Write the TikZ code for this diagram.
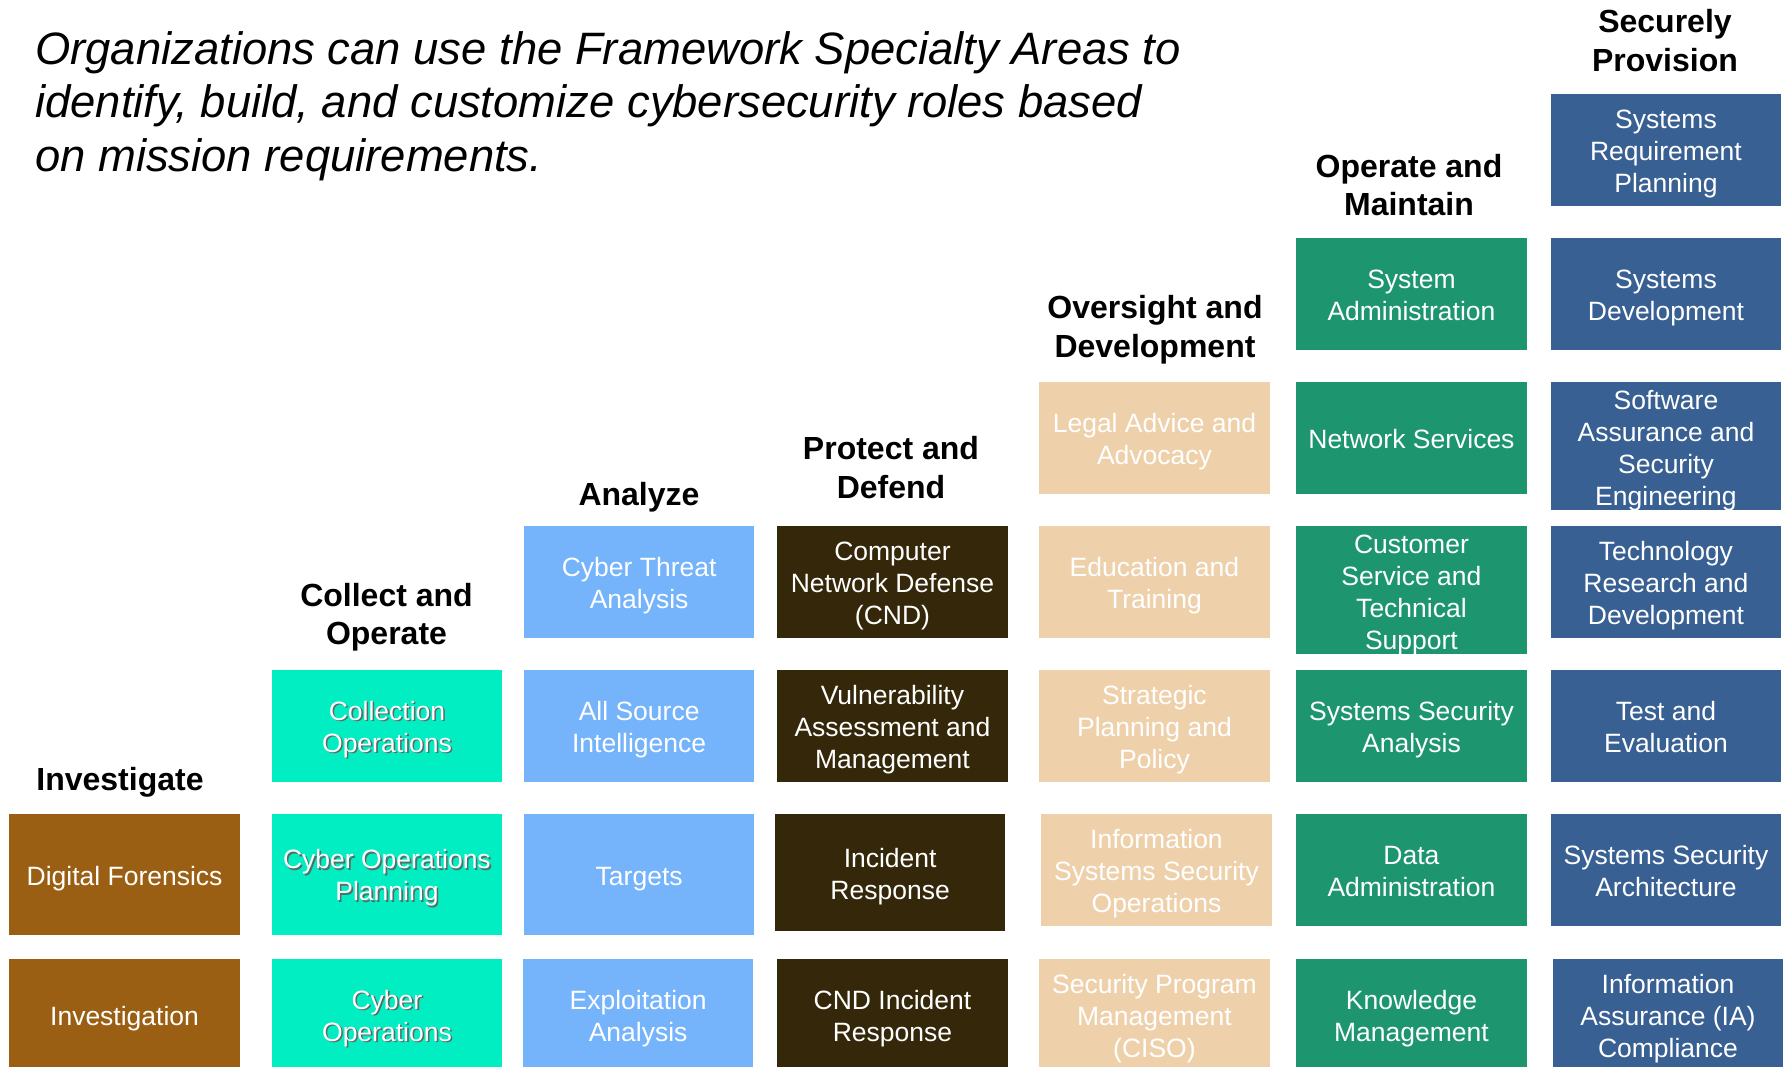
\documentclass[tikz,border=0pt]{standalone}
\usepackage{fontspec}
\setmainfont{Liberation Sans}

% area colours
\definecolor{invbrown}{HTML}{9A5F12}
\definecolor{colcyan}{HTML}{00EEC2}
\definecolor{anablue}{HTML}{75B3FB}
\definecolor{probrown}{HTML}{35280A}
\definecolor{ovtan}{HTML}{EED1AB}
\definecolor{opgreen}{HTML}{1D9670}
\definecolor{secblue}{HTML}{386092}
\definecolor{textshadow}{HTML}{5A6A66}

% centred multi-line cell text, nudged slightly down inside its box
\newcommand\celltab[1]{\begin{tabular}{@{}c@{}}#1\end{tabular}}
\newcommand\cell[1]{\raisebox{-4.5pt}[\height][\depth]{\celltab{#1}}}
\newcommand\shadowcell[1]{\raisebox{-4.5pt}[\height][\depth]{%
  \makebox[0pt][l]{\hspace*{1.6pt}\raisebox{-1.6pt}{\color{textshadow}\celltab{#1}}}%
  \celltab{#1}}}

\tikzset{
  area/.style={rectangle, inner sep=0pt, minimum width=230.5pt,
    minimum height=111.7pt, anchor=north west, text=white,
    font=\fontsize{26.5}{32}\selectfont},
  head/.style={inner sep=0pt, text=black,
    font=\bfseries\fontsize{32}{38.5}\selectfont},
}

\begin{document}
\begin{tikzpicture}[x=1pt, y=-1pt]
\useasboundingbox (0,0) rectangle (1789,1067);
\fill[white] (0,0) rectangle (1789,1067);

% heading
\node[inner sep=0pt, anchor=north west, font=\itshape\fontsize{45.4}{53.7}\selectfont]
  (intro) at (35,26.4)
  {\begin{tabular}{@{}l@{}}Organizations can use the Framework Specialty Areas to\\
   identify, build, and customize cybersecurity roles based\\
   on mission requirements.\end{tabular}};

% category titles
\node[head] (hInv) at (120,782.5) {\celltab{Investigate}};
\node[head] (hCol) at (386.5,618) {\celltab{Collect and\\Operate}};
\node[head] (hAna) at (639,497.5) {\celltab{Analyze}};
\node[head] (hPro) at (891,471.5) {\celltab{Protect and\\Defend}};
\node[head] (hOve) at (1155,330.5) {\celltab{Oversight and\\Development}};
\node[head] (hOpe) at (1409,189) {\celltab{Operate and\\Maintain}};
\node[head] (hSec) at (1665,44.5) {\celltab{Securely\\Provision}};

\begin{scope}
\clip (0,0) rectangle (1789,1067);

% Investigate
\node[area, fill=invbrown, minimum height=121pt] (digfor) at (9.1,814) {\cell{Digital Forensics}};
\node[area, fill=invbrown] (invest) at (9.1,959) {\cell{Investigation}};

% Collect and Operate
\node[area, fill=colcyan] (colops) at (271.5,670) {\shadowcell{Collection\\Operations}};
\node[area, fill=colcyan, minimum height=121pt] (cyopsplan) at (271.5,814) {\shadowcell{Cyber Operations\\Planning}};
\node[area, fill=colcyan] (cyops) at (271.5,959) {\shadowcell{Cyber\\Operations}};

% Analyze
\node[area, fill=anablue] (cta) at (523.7,526) {\cell{Cyber Threat\\Analysis}};
\node[area, fill=anablue] (asi) at (523.7,670) {\cell{All Source\\Intelligence}};
\node[area, fill=anablue, minimum height=121pt] (targets) at (523.7,814) {\cell{Targets}};
\node[area, fill=anablue] (exploit) at (522.7,959) {\cell{Exploitation\\Analysis}};

% Protect and Defend
\node[area, fill=probrown] (cnd) at (777,526) {\cell{Computer\\Network Defense\\(CND)}};
\node[area, fill=probrown] (vam) at (777,670) {\cell{Vulnerability\\Assessment and\\Management}};
\node[area, fill=probrown, minimum height=117pt] (incresp) at (774.7,814) {\cell{Incident\\Response}};
\node[area, fill=probrown] (cndir) at (777,959) {\cell{CND Incident\\Response}};

% Oversight and Development
\node[area, fill=ovtan] (legal) at (1039,382) {\cell{Legal Advice and\\Advocacy}};
\node[area, fill=ovtan] (edu) at (1039,526) {\cell{Education and\\Training}};
\node[area, fill=ovtan] (strat) at (1039,670) {\cell{Strategic\\Planning and\\Policy}};
\node[area, fill=ovtan] (isso) at (1041,814) {\cell{Information\\Systems Security\\Operations}};
\node[area, fill=ovtan] (spm) at (1039,959) {\cell{Security Program\\Management\\(CISO)}};

% Operate and Maintain
\node[area, fill=opgreen] (sysadmin) at (1296,238) {\cell{System\\Administration}};
\node[area, fill=opgreen] (netserv) at (1296,382) {\cell{Network Services}};
\node[area, fill=opgreen, minimum height=127pt] (custserv) at (1296,526) {\cell{Customer\\Service and\\Technical\\Support}};
\node[area, fill=opgreen] (ssa) at (1296,670) {\cell{Systems Security\\Analysis}};
\node[area, fill=opgreen] (dataadmin) at (1296,814) {\cell{Data\\Administration}};
\node[area, fill=opgreen] (km) at (1296,959) {\cell{Knowledge\\Management}};

% Securely Provision
\node[area, fill=secblue] (srp) at (1550.5,94) {\cell{Systems\\Requirement\\Planning}};
\node[area, fill=secblue] (sysdev) at (1550.5,238) {\cell{Systems\\Development}};
\node[area, fill=secblue, minimum height=127pt] (sase) at (1550.5,382) {\cell{Software\\Assurance and\\Security\\Engineering}};
\node[area, fill=secblue] (trd) at (1550.5,526) {\cell{Technology\\Research and\\Development}};
\node[area, fill=secblue] (te) at (1550.5,670) {\cell{Test and\\Evaluation}};
\node[area, fill=secblue] (ssarch) at (1550.5,814) {\cell{Systems Security\\Architecture}};
\node[area, fill=secblue] (iac) at (1552.5,959) {\cell{Information\\Assurance (IA)\\Compliance}};
\end{scope}
\end{tikzpicture}
\end{document}
